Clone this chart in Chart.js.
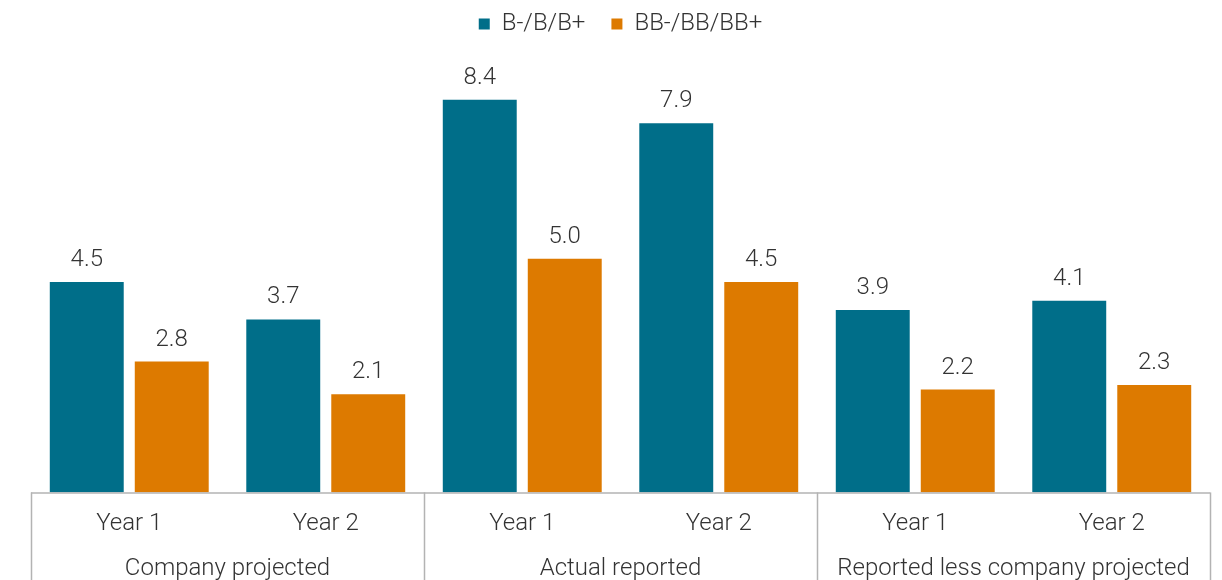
<!DOCTYPE html>
<html>
<head>
<meta charset="utf-8">
<script src="https://cdn.jsdelivr.net/npm/chart.js@4/dist/chart.umd.min.js"></script>
<style>
  html, body { margin: 0; padding: 0; background: #fff; }
  #wrap { width: 1222px; height: 580px; }
</style>
</head>
<body>
<div id="wrap"><canvas id="myChart" width="1222" height="580"></canvas></div>
<script>
const yearLabels = ['Year 1', 'Year 2', 'Year 1', 'Year 2', 'Year 1', 'Year 2'];
const groupLabels = ['Company projected', 'Actual reported', 'Reported less company projected'];
const seriesNames = ['B-/B/B+', 'BB-/BB/BB+'];
const singleB = [4.5, 3.7, 8.4, 7.9, 3.9, 4.1];
const doubleB = [2.8, 2.1, 5.0, 4.5, 2.2, 2.3];

const FONT = 'Roboto, "Liberation Sans", sans-serif';
const TEXT = '#333333';
const LINE = '#b3b3b3';
const SIZE = 24;

// value labels above each bar
const barValues = {
    id: 'barValues',
    afterDatasetsDraw(chart) {
        const ctx = chart.ctx;
        ctx.save();
        ctx.font = '300 ' + SIZE + 'px ' + FONT;
        ctx.fillStyle = TEXT;
        ctx.textAlign = 'center';
        ctx.textBaseline = 'alphabetic';
        chart.data.datasets.forEach((ds, i) => {
            chart.getDatasetMeta(i).data.forEach((bar, j) => {
                ctx.fillText(ds.data[j].toFixed(1), bar.x, bar.y - 16);
            });
        });
        ctx.restore();
    }
};

// box lines around the two-level category axis
const groupLines = {
    id: 'groupLines',
    afterDraw(chart) {
        const x = chart.scales.x;
        const ctx = chart.ctx;
        const bottom = chart.chartArea.bottom;
        ctx.save();
        ctx.strokeStyle = LINE;
        ctx.lineWidth = 1.5;
        [-0.5, 1.5, 3.5, 5.5].forEach(v => {
            const px = Math.round(x.getPixelForValue(v)) + 0.5;
            ctx.beginPath();
            ctx.moveTo(px, bottom);
            ctx.lineTo(px, chart.height);
            ctx.stroke();
        });
        ctx.beginPath();
        ctx.moveTo(x.getPixelForValue(-0.5), bottom + 0.5);
        ctx.lineTo(x.getPixelForValue(5.5), bottom + 0.5);
        ctx.stroke();
        ctx.restore();
    }
};

document.addEventListener('DOMContentLoaded', function () {
    const ctx = document.getElementById('myChart').getContext('2d');
    new Chart(ctx, {
        type: 'bar',
        data: {
            labels: yearLabels,
            datasets: [{
                label: seriesNames[0],
                data: singleB,
                backgroundColor: '#006e89'
            }, {
                label: seriesNames[1],
                data: doubleB,
                backgroundColor: '#dd7a00'
            }]
        },
        options: {
            responsive: false,
            animation: false,
            layout: { padding: { left: 31, right: 12, top: -14, bottom: -2 } },
            datasets: {
                bar: { categoryPercentage: 0.865, barPercentage: 0.87 }
            },
            plugins: {
                legend: {
                    position: 'top',
                    labels: {
                        boxWidth: 11,
                        boxHeight: 11,
                        padding: 26,
                        color: TEXT,
                        font: { family: FONT, size: SIZE, weight: '300' }
                    }
                },
                tooltip: { enabled: false }
            },
            scales: {
                x: {
                    offset: true,
                    grid: { display: false, drawTicks: false },
                    border: { display: false },
                    ticks: {
                        color: TEXT,
                        padding: 17,
                        maxRotation: 0,
                        font: { family: FONT, size: SIZE, weight: '300' }
                    }
                },
                group: {
                    type: 'category',
                    position: 'bottom',
                    labels: groupLabels,
                    offset: true,
                    grid: { display: false, drawTicks: false },
                    border: { display: false },
                    ticks: {
                        color: TEXT,
                        padding: -1,
                        maxRotation: 0,
                        autoSkip: false,
                        font: { family: FONT, size: SIZE, weight: '300' }
                    }
                },
                y: {
                    display: false,
                    beginAtZero: true,
                    max: 9.55
                }
            }
        },
        plugins: [barValues, groupLines]
    });
});
</script>
</body>
</html>
